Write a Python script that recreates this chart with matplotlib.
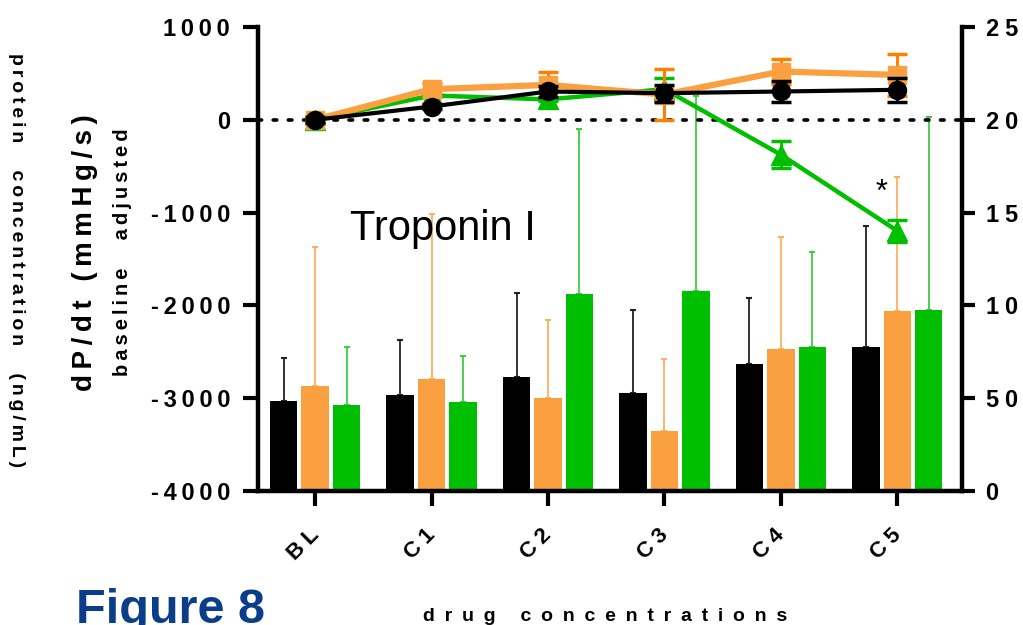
import matplotlib
matplotlib.use("Agg")
import matplotlib.pyplot as plt
import matplotlib.transforms as mtransforms
import numpy as np

# ---------------- data ----------------
categories = ['BL', 'C1', 'C2', 'C3', 'C4', 'C5']

# protein concentration (ng/mL), right axis, bars (mean, upper SD)
bar_black = [48.5, 51.6, 61.2, 52.9, 68.3, 77.7]
bar_black_err = [22.9, 30.0, 45.4, 44.5, 35.6, 65.2]
bar_orange = [56.7, 60.3, 50.0, 32.1, 76.4, 97.0]
bar_orange_err = [74.8, 88.9, 41.9, 38.9, 60.7, 72.4]
bar_green = [46.2, 47.8, 106.2, 107.8, 77.7, 97.4]
bar_green_err = [31.6, 25.0, 88.6, 104.8, 51.3, 103.9]

# dP/dt baseline adjusted (mmHg/s), left axis, lines
line_black = [0, 143, 305, 287, 305, 323]
line_black_err = [30, 30, 60, 90, 110, 129]
line_orange = [0, 330, 376, 272, 520, 484]
line_orange_err = [40, 71, 135, 272, 132, 229]
line_green = [0, 262, 220, 330, -376, -1197]
line_green_err = [20, 20, 20, 125, 143, 122]

left_ticks = [1000, 0, -1000, -2000, -3000, -4000]
right_ticks = [0, 50, 100, 150, 200, 250]

# ---------------- style ----------------
W, H = 1023, 625
FONT = ['Liberation Sans', 'DejaVu Sans']
EN = '\u2002'
EM = '\u2003'
QUARTER = '\u2005'
THIN = '\u2009'

def sp(s, ch=THIN, word=None):
    if word is None:
        word = ch + ' ' + ch
    return word.join(ch.join(list(w)) for w in s.split(' '))

BLACK = '#000000'
ORANGE = '#FBA040'
ORANGE_DARK = '#FF8000'
ORANGE_ERR = '#FFB060'
GREEN = '#00BE00'
GREEN_ERR = '#40CC40'

fig = plt.figure(figsize=(W / 100, H / 100), dpi=100)
ax = fig.add_axes([258 / W, 1 - 491 / H, (962 - 258) / W, (491 - 27) / H])
ax2 = ax.twinx()

x = np.arange(len(categories))
bw = 0.235
off = 0.27

# bars on right axis
for vals, errs, col, ecol, dx in [
    (bar_black, bar_black_err, BLACK, '#222222', -off),
    (bar_orange, bar_orange_err, ORANGE, ORANGE_ERR, 0.0),
    (bar_green, bar_green_err, GREEN, GREEN_ERR, off),
]:
    ax2.bar(x + dx, vals, width=bw, color=col, edgecolor='none', zorder=2)
    ax2.errorbar(x + dx, vals, yerr=[np.zeros(len(vals)), errs], fmt='none',
                 ecolor=ecol, elinewidth=1.3, capsize=2, capthick=1.5, zorder=1)

ax2.set_ylim(0, 250)

# lines on left axis
ax.axhline(0, color='black', lw=2.6, ls=(0, (1, 3.2)), dash_capstyle='round', zorder=1)
ax.errorbar(x, line_green, yerr=line_green_err, color=GREEN, lw=3.2, marker='^', ms=14,
            ecolor=GREEN, elinewidth=2, capsize=7, capthick=2.5, zorder=3)
ax.errorbar(x, line_orange, yerr=line_orange_err, color=ORANGE, lw=4.5, marker='s', ms=13,
            ecolor=ORANGE_DARK, elinewidth=2.2, capsize=7, capthick=2.5, zorder=4)
ax.errorbar(x, line_black, yerr=line_black_err, color=BLACK, lw=3, marker='o', ms=13,
            ecolor=BLACK, elinewidth=2, capsize=7, capthick=2.5, zorder=5)

ax.set_zorder(ax2.get_zorder() + 1)
ax.patch.set_visible(False)

ax.set_xlim(-0.49, 5.555)
ax.set_ylim(-4000, 1000)

# spines
for a in (ax, ax2):
    for s in a.spines.values():
        s.set_linewidth(3.2)
    a.spines['top'].set_visible(False)
ax.spines['right'].set_visible(False)
ax2.spines['left'].set_visible(False)
ax2.spines['bottom'].set_visible(False)

# ticks
tick_font = dict(family=FONT, weight='bold', size=17)
ax.set_yticks(left_ticks)
ax.set_yticklabels([sp(str(t)) for t in left_ticks], **tick_font)
ax.tick_params(axis='y', length=11, width=3, pad=9)
ax2.set_yticks(right_ticks)
ax2.set_yticklabels([sp(str(t), QUARTER) for t in right_ticks], family=FONT,
                    weight='bold', size=17)
ax2.tick_params(axis='y', length=9, width=3, pad=8)

ax.set_xticks(x)
ax.set_xticklabels([sp(c, QUARTER) for c in categories], rotation=45, ha='right', va='top',
                   family=FONT, weight='bold', size=16)
ax.tick_params(axis='x', length=11, width=3, pad=13)
for lbl in ax.get_xticklabels():
    lbl.set_transform(lbl.get_transform() +
                      mtransforms.ScaledTranslation(0.08, 0, fig.dpi_scale_trans))

# annotation texts
ax.text(0.30, -1180, 'Troponin I', family=FONT, size=30, ha='left', va='center')
ax.text(4.86, -790, '*', family=FONT, size=22, ha='center', va='center')

# axis labels as figure texts (pixel coordinates)
def ftxt(px, py, s, **kw):
    fig.text(px / W, 1 - py / H, s, **kw)

ftxt(85, 253, sp('dP/dt (mmHg/s)', THIN), rotation=90, ha='center', va='center',
     family=FONT, weight='bold', size=20)
ftxt(122, 252, sp('baseline adjusted', THIN, THIN + EM + THIN), rotation=90,
     ha='center', va='center', family=FONT, weight='bold', size=14.5)
ftxt(16, 260, sp('protein concentration (ng/mL)', THIN, THIN + EM + THIN), rotation=270,
     ha='center', va='center', family=FONT, weight='bold', size=14)
ftxt(605, 608, sp('drug concentrations', EN), ha='center', va='top',
     family=FONT, weight='bold', size=14)
ftxt(76, 588, 'Figure 8', ha='left', va='top', family=FONT, weight='bold', size=35,
     color='#0A3D8A')

fig.savefig('out.png', dpi=100)
